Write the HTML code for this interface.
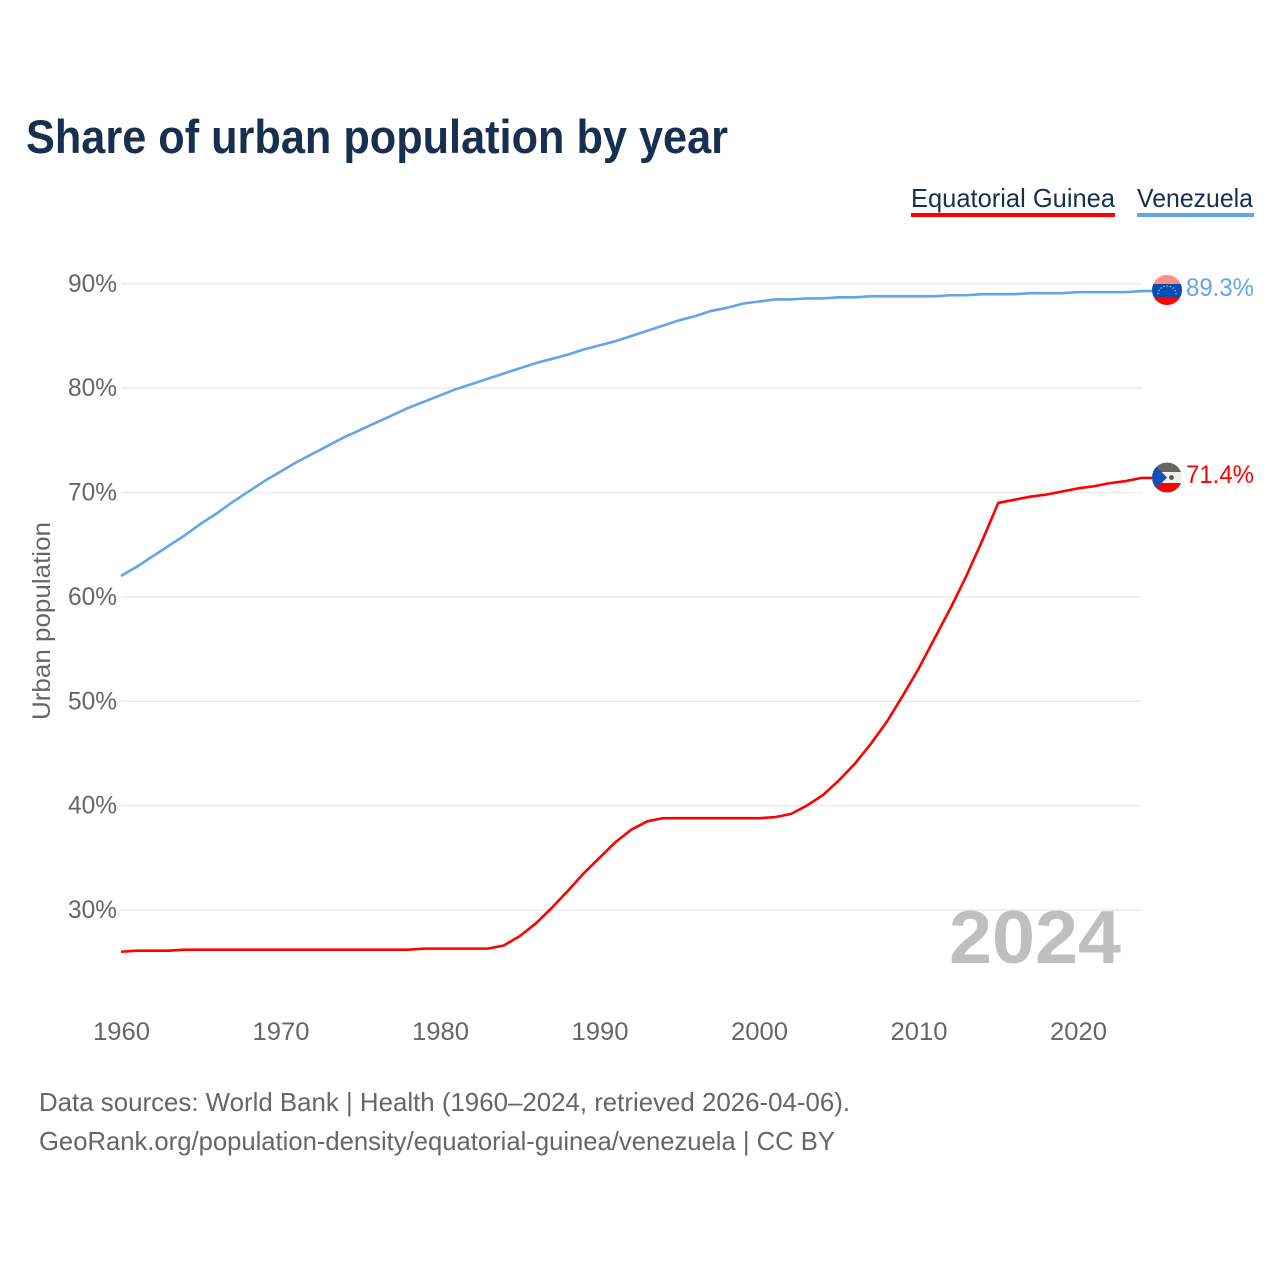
<!DOCTYPE html>
<html>
<head>
<meta charset="utf-8">
<title>Share of urban population by year</title>
<style>
html,body{margin:0;padding:0;background:#fff;}
svg{display:block;}
text{font-family:"Liberation Sans",sans-serif;}
</style>
</head>
<body>
<svg id="chart" width="1280" height="1280" viewBox="0 0 1280 1280" xmlns="http://www.w3.org/2000/svg">
  <rect x="0" y="0" width="1280" height="1280" fill="#fff"/>
  <text x="26" y="153" font-size="47" font-weight="700" fill="#18304f" textLength="702" lengthAdjust="spacingAndGlyphs">Share of urban population by year</text>

  <g>
    <g>
      <text x="911" y="207" font-size="26" fill="#18304f" textLength="204" lengthAdjust="spacingAndGlyphs">Equatorial Guinea</text>
      <rect x="911" y="213" width="204" height="4" fill="#ff0000"/>
    </g>
    <g>
      <text x="1137" y="207" font-size="26" fill="#18304f" textLength="116" lengthAdjust="spacingAndGlyphs">Venezuela</text>
      <rect x="1137" y="213" width="117" height="4" fill="#63a4ea"/>
    </g>
  </g>

  <g id="grid"></g>
  <g id="yticks"></g>
  <g id="xticks"></g>

  <text transform="translate(50,720) rotate(-90)" font-size="25" fill="#666" textLength="198" lengthAdjust="spacingAndGlyphs">Urban population</text>

  <text x="949" y="963" font-size="75" font-weight="700" fill="#bfbfbf" textLength="172" lengthAdjust="spacingAndGlyphs">2024</text>

  <g id="lines"></g>

  <defs>
    <clipPath id="clip-ve"><circle cx="1167" cy="290" r="15"/></clipPath>
    <clipPath id="clip-gq"><circle cx="1167" cy="477.5" r="15"/></clipPath>
  </defs>

  <g clip-path="url(#clip-ve)">
    <rect x="1152" y="275" width="30" height="9" fill="#fd9181"/>
    <rect x="1152" y="284" width="30" height="13" fill="#0a4db1"/>
    <rect x="1152" y="297" width="30" height="8" fill="#ff0000"/>
    <path d="M1158 294 A9 8 0 0 1 1176 294" fill="none" stroke="#c9d8ee" stroke-width="1.2" stroke-dasharray="1.2 2"/>
  </g>
  <g clip-path="url(#clip-gq)">
    <rect x="1152" y="462" width="30" height="10" fill="#666661"/>
    <rect x="1152" y="472" width="30" height="11" fill="#efefef"/>
    <rect x="1152" y="483" width="30" height="10" fill="#ff0000"/>
    <path d="M1152 462 L1167 477.5 L1152 493 Z" fill="#1250b4"/>
    <circle cx="1171.5" cy="477.5" r="2.4" fill="#555"/>
  </g>

  <text id="label-ve" x="1186" y="296" font-size="25" fill="#63a4ea" textLength="68" lengthAdjust="spacingAndGlyphs"></text>
  <text id="label-gq" x="1186" y="483" font-size="25" fill="#ff0000" textLength="68" lengthAdjust="spacingAndGlyphs"></text>

  <text x="39" y="1111" font-size="26" fill="#666" textLength="811" lengthAdjust="spacingAndGlyphs">Data sources: World Bank | Health (1960–2024, retrieved 2026-04-06).</text>
  <text x="39" y="1150" font-size="26" fill="#666" textLength="796" lengthAdjust="spacingAndGlyphs">GeoRank.org/population-density/equatorial-guinea/venezuela | CC BY</text>
</svg>
<script>
var startYear = 1960;
var yTickValues = [30, 40, 50, 60, 70, 80, 90];
var xTickValues = [1960, 1970, 1980, 1990, 2000, 2010, 2020];
var equatorialGuinea = [
  26.0, 26.1, 26.1, 26.1, 26.2, 26.2, 26.2, 26.2, 26.2, 26.2,
  26.2, 26.2, 26.2, 26.2, 26.2, 26.2, 26.2, 26.2, 26.2, 26.3,
  26.3, 26.3, 26.3, 26.3, 26.6, 27.5, 28.7, 30.2, 31.8, 33.5,
  35.0, 36.5, 37.7, 38.5, 38.8, 38.8, 38.8, 38.8, 38.8, 38.8,
  38.8, 38.9, 39.2, 40.0, 41.0, 42.4, 44.0, 45.9, 48.0, 50.5,
  53.1, 56.0, 58.9, 62.0, 65.4, 69.0, 69.3, 69.6, 69.8, 70.1,
  70.4, 70.6, 70.9, 71.1, 71.4
];
var venezuela = [
  62.0, 62.9, 63.9, 64.9, 65.9, 67.0, 68.0, 69.1, 70.1, 71.1,
  72.0, 72.9, 73.7, 74.5, 75.3, 76.0, 76.7, 77.4, 78.1, 78.7,
  79.3, 79.9, 80.4, 80.9, 81.4, 81.9, 82.4, 82.8, 83.2, 83.7,
  84.1, 84.5, 85.0, 85.5, 86.0, 86.5, 86.9, 87.4, 87.7, 88.1,
  88.3, 88.5, 88.5, 88.6, 88.6, 88.7, 88.7, 88.8, 88.8, 88.8,
  88.8, 88.8, 88.9, 88.9, 89.0, 89.0, 89.0, 89.1, 89.1, 89.1,
  89.2, 89.2, 89.2, 89.2, 89.3
];

var NS = 'http://www.w3.org/2000/svg';
function xScale(year) { return 121 + (year - 1960) * 15.95; }
function yScale(v) { return 910 - (v - 30) * 10.437; }

var gridG = document.getElementById('grid');
var yG = document.getElementById('yticks');
var xG = document.getElementById('xticks');
var linesG = document.getElementById('lines');

yTickValues.forEach(function (v) {
  var l = document.createElementNS(NS, 'line');
  
  
  l.setAttribute('x1', 121);
  l.setAttribute('x2', 1142);
  l.setAttribute('y1', yScale(v));
  l.setAttribute('y2', yScale(v));
  l.setAttribute('stroke', '#ececec');
  l.setAttribute('stroke-width', '1.5');
  gridG.appendChild(l);

  var t = document.createElementNS(NS, 'text');
  
  
  t.setAttribute('x', 68);
  t.setAttribute('y', yScale(v) + 8);
  t.setAttribute('font-size', '25');
  t.setAttribute('fill', '#666');
  t.setAttribute('textLength', '49');
  t.setAttribute('lengthAdjust', 'spacingAndGlyphs');
  t.textContent = v + '%';
  yG.appendChild(t);
});

xTickValues.forEach(function (y) {
  var t = document.createElementNS(NS, 'text');
  
  
  t.setAttribute('x', xScale(y) - 28);
  t.setAttribute('y', 1040);
  t.setAttribute('font-size', '25');
  t.setAttribute('fill', '#666');
  t.setAttribute('textLength', '57');
  t.setAttribute('lengthAdjust', 'spacingAndGlyphs');
  t.textContent = String(y);
  xG.appendChild(t);
});

function drawSeries(values, color, name) {
  var pts = values.map(function (v, i) {
    return xScale(startYear + i).toFixed(2) + ',' + yScale(v).toFixed(2);
  });
  var last = yScale(values[values.length - 1]);
  pts.push('1152,' + last.toFixed(2));
  var p = document.createElementNS(NS, 'polyline');
  
  
  p.setAttribute('points', pts.join(' '));
  p.setAttribute('fill', 'none');
  p.setAttribute('stroke', color);
  p.setAttribute('stroke-width', '2.6');
  p.setAttribute('stroke-linejoin', 'round');
  linesG.appendChild(p);
}
drawSeries(venezuela, '#63a4ea', 'line-venezuela');
drawSeries(equatorialGuinea, '#ff0000', 'line-equatorial-guinea');

document.getElementById('label-ve').textContent = venezuela[venezuela.length - 1].toFixed(1) + '%';
document.getElementById('label-gq').textContent = equatorialGuinea[equatorialGuinea.length - 1].toFixed(1) + '%';
</script>
</body>
</html>
